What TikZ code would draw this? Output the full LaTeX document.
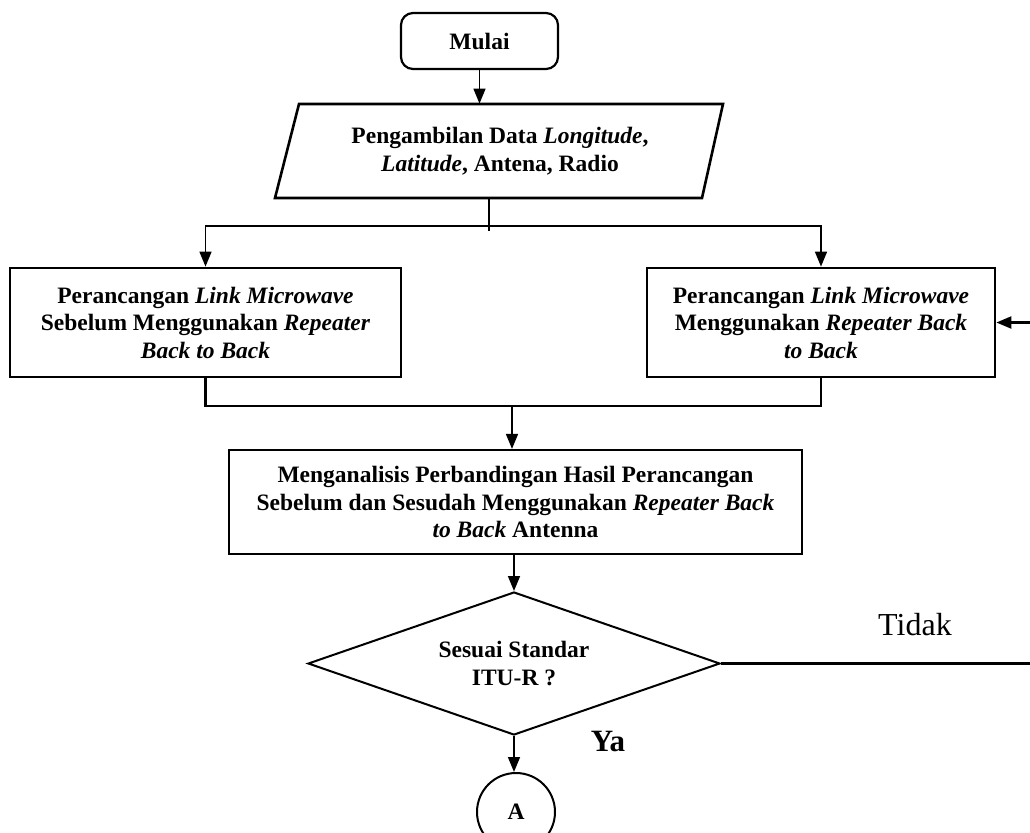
\documentclass[tikz,border=0pt]{standalone}
\usepackage{fontspec}
\setmainfont{Liberation Serif}
\usetikzlibrary{arrows.meta,shapes.geometric,calc}
\begin{document}
\begin{tikzpicture}[x=0.5pt,y=-0.5pt,
  txt/.style={font=\fontsize{11.75pt}{13.75pt}\selectfont\bfseries, align=center},
  boxnode/.style={txt, draw, line width=1.4pt, inner sep=0pt},
  conn/.style={line width=0.8pt},
  arr/.style={conn, -{Triangle[length=7.5pt,width=6pt]}},
]
\useasboundingbox (0,0) rectangle (1030,832);

% nodes
\node[boxnode, line width=1.1pt, rounded corners=6pt, minimum width=78.5pt, minimum height=28pt] (start) at (479.5,41) {Mulai};
\node[txt, minimum width=190pt, minimum height=47pt, inner sep=0pt] (data) at (500,151)
  {Pengambilan Data \textit{Longitude},\\\textit{Latitude}, Antena, Radio};
\draw[line width=1.3pt] ($(data.center)+(-201,-47)$) -- ($(data.center)+(223,-47)$)
  -- ($(data.center)+(202,47)$) -- ($(data.center)+(-225,47)$) -- cycle;

\node[boxnode, minimum width=195.5pt, minimum height=54.5pt] (lbox) at (205.5,322.5)
  {Perancangan \textit{Link Microwave}\\Sebelum Menggunakan \textit{Repeater}\\\textit{Back to Back}};
\node[boxnode, minimum width=174pt, minimum height=54.5pt] (rbox) at (821,322.5)
  {Perancangan \textit{Link Microwave}\\Menggunakan \textit{Repeater Back}\\\textit{to Back}};
\node[boxnode, line width=1.1pt, minimum width=286.5pt, minimum height=52pt] (anal) at (515.5,502)
  {Menganalisis Perbandingan Hasil Perancangan\\Sebelum dan Sesudah Menggunakan \textit{Repeater Back}\\\textit{to Back} Antenna};
\node[txt, diamond, draw, line width=1pt, inner sep=0pt, shape aspect=2.88, minimum width=206pt, minimum height=71.5pt] (dia) at (514,663.5)
  {Sesuai Standar\\ITU-R ?};
\node[txt, circle, draw, line width=1pt, inner sep=0pt, minimum size=39pt] (conA) at (516,812) {A};
\node[font=\fontsize{15.5pt}{18pt}\selectfont\bfseries, inner sep=0pt] (ya) at (608,741) {Ya};
\node[font=\fontsize{16pt}{19pt}\selectfont, inner sep=0pt] (tidak) at (915,625) {Tidak};

% connectors
\draw[arr] (start.south) -- (start.south |- data.north);
\coordinate (split) at (489,226);
\coordinate (stemend) at (489,231);
\draw[conn] (split |- data.south) -- (stemend);
\draw[arr] (split) -| (lbox.north);
\draw[arr] (split) -| (rbox.north);
\coordinate (merge) at (512,406);
\draw[conn, line width=1.1pt] (lbox.south) |- (merge);
\draw[conn, line width=1.1pt] (rbox.south) |- (merge);
\draw[arr] (merge) -- (merge |- anal.north);
\draw[arr] (dia.north |- anal.south) -- (dia.north);
\draw[arr] (dia.south) -- (dia.south |- conA.north);
\coordinate (loop) at (1034,664);
\draw[arr, line width=1.1pt] (dia.east) -- (dia.east -| loop) |- (rbox.east);
\end{tikzpicture}
\end{document}
